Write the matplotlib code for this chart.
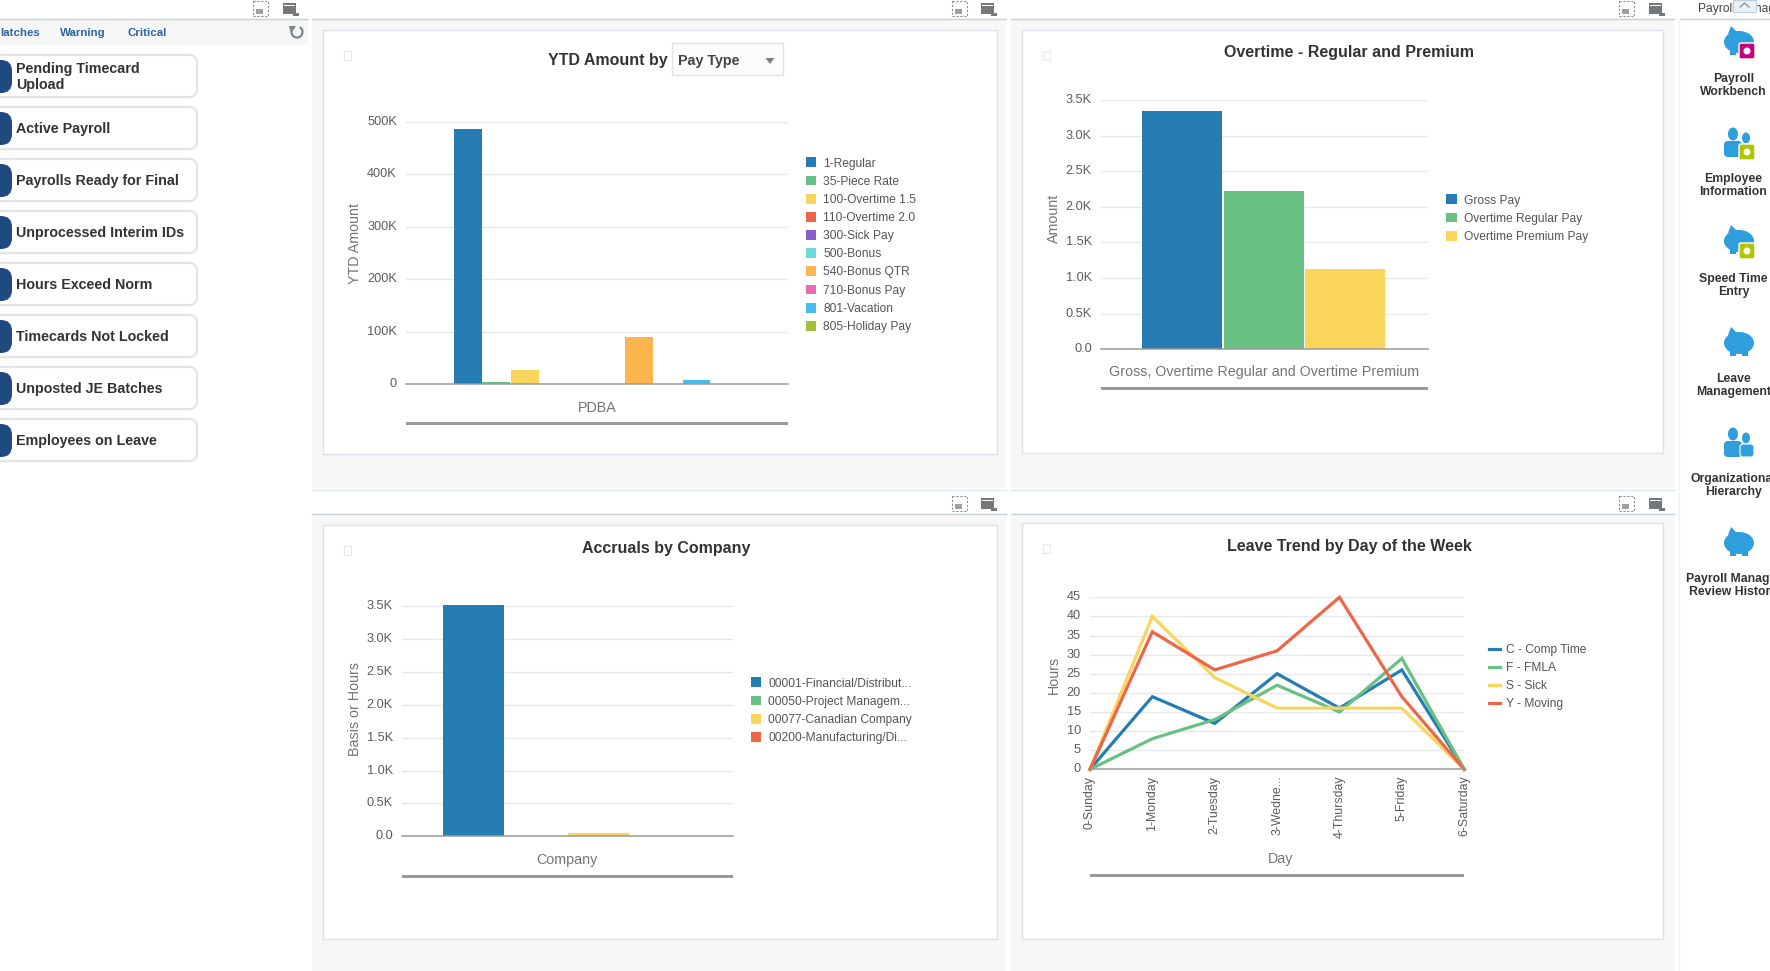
import matplotlib
matplotlib.use("Agg")
import matplotlib.pyplot as plt
from matplotlib.patches import Rectangle, FancyBboxPatch, Ellipse, Polygon, Circle, Arc
from matplotlib.ticker import FuncFormatter
from matplotlib.transforms import ScaledTranslation

plt.rcParams['font.family'] = ['Liberation Sans', 'DejaVu Sans']

# ---------- data ----------
pay_types = ['1-Regular', '35-Piece Rate', '100-Overtime 1.5', '110-Overtime 2.0', '300-Sick Pay',
             '500-Bonus', '540-Bonus QTR', '710-Bonus Pay', '801-Vacation', '805-Holiday Pay']
pay_values = [486500, 3500, 27500, 0, 0, 0, 90000, 0, 8300, 0]
pay_ticks = [0, 100000, 200000, 300000, 400000, 500000]

overtime_names = ['Gross Pay', 'Overtime Regular Pay', 'Overtime Premium Pay']
overtime_values = [3345, 2222, 1127]
overtime_ticks = [0, 500, 1000, 1500, 2000, 2500, 3000, 3500]

companies = ['00001-Financial/Distribut...', '00050-Project Managem...',
             '00077-Canadian Company', '00200-Manufacturing/Di...']
company_values = [3520, 0, 45, 0]

days = ['0-Sunday', '1-Monday', '2-Tuesday', '3-Wedne...', '4-Thursday', '5-Friday', '6-Saturday']
leave_names = ['C - Comp Time', 'F - FMLA', 'S - Sick', 'Y - Moving']
comp_time = [0, 19, 12, 25, 16, 26, 0]
fmla = [0, 8, 13, 22, 15, 29, 0]
sick = [0, 40, 24, 16, 16, 16, 0]
moving = [0, 36, 26, 31, 45, 19, 0]
leave_ticks = [0, 5, 10, 15, 20, 25, 30, 35, 40, 45]

side_items = ['Pending Timecard\nUpload', 'Active Payroll', 'Payrolls Ready for Final',
              'Unprocessed Interim IDs', 'Hours Exceed Norm', 'Timecards Not Locked',
              'Unposted JE Batches', 'Employees on Leave']
side_tabs = ['latches', 'Warning', 'Critical']
nav_items = ['Payroll\nWorkbench', 'Employee\nInformation', 'Speed Time\nEntry', 'Leave\nManagement',
             'Organizational\nHierarchy', 'Payroll Manager\nReview History']

palette = ['#267db3', '#68c182', '#fad55c', '#ed6647', '#8561c5',
           '#6ddbdb', '#ffb54d', '#e46fb5', '#47bdef', '#a2bf39']

# ---------- helpers ----------
W, H = 1770, 971
fig = plt.figure(figsize=(W / 100, H / 100), dpi=100, facecolor='white')
bg = fig.add_axes([0, 0, 1, 1], zorder=0)
bg.set_xlim(0, W)
bg.set_ylim(H, 0)
bg.axis('off')


def pt(px):
    return px * 0.72


def rect(x0, y0, x1, y1, **kw):
    kw.setdefault('linewidth', 0)
    bg.add_patch(Rectangle((x0, y0), x1 - x0, y1 - y0, **kw))


def px_axes(l, t, r, b):
    ax = fig.add_axes([l / W, 1 - b / H, (r - l) / W, (b - t) / H], zorder=2)
    ax.patch.set_alpha(0)
    for s in ['top', 'left', 'right']:
        ax.spines[s].set_visible(False)
    ax.spines['bottom'].set_color('#9a9a9a')
    ax.spines['bottom'].set_linewidth(1.1)
    ax.grid(axis='y', color='#e6e8ee', linewidth=1.0)
    ax.set_axisbelow(True)
    ax.tick_params(axis='y', length=0, pad=6.5, labelsize=pt(12.7), labelcolor='#5c5c5c')
    ax.tick_params(axis='x', length=0)
    return ax


def kfmt(decimals):
    def f(v, _):
        if v == 0:
            return '0' if decimals == 0 else '0.0'
        return f'{v / 1000:.{decimals}f}K'
    return FuncFormatter(f)


def lift_labels(ax):
    off = ScaledTranslation(0, 1.5 / 100, fig.dpi_scale_trans)
    for lbl in ax.get_yticklabels():
        lbl.set_transform(lbl.get_transform() + off)


def axis_titles(ax, xlabel, xpos, ylabel, ypos):
    ax.set_xlabel(xlabel, fontsize=pt(14.2), color='#757575', va='center', ha='center')
    ax.xaxis.set_label_coords(xpos[0], xpos[1] + 1, transform=bg.transData)
    ax.set_ylabel(ylabel, fontsize=pt(14.2), color='#757575', va='center', ha='center')
    ax.yaxis.set_label_coords(ypos[0], ypos[1], transform=bg.transData)


def legend(ax, x, y, line=False):
    fs = 12.05
    ax.legend(loc='upper left', bbox_to_anchor=(x, y), bbox_transform=bg.transData,
              frameon=False, fontsize=pt(fs), labelcolor='#555555', borderpad=0, borderaxespad=0,
              handlelength=10.5 / fs, handleheight=(3 if line else 10.5) / fs,
              handletextpad=7 / fs, labelspacing=(17.8 - 11.7) / fs)


def toolbar(x1, x2, y):
    rect(x1, y, x1 + 15, y + 15, facecolor='none', edgecolor='#8a8f94', linewidth=0.8, linestyle=(0, (2, 1.5)))
    rect(x1 + 3, y + 8, x1 + 10, y + 13, facecolor='#9aa0a5')
    rect(x2, y + 2, x2 + 13, y + 13, facecolor='#73787d')
    rect(x2 + 1, y + 4, x2 + 12, y + 5, facecolor='white')
    bg.add_patch(Polygon([[x2 + 10, y + 12], [x2 + 16, y + 12], [x2 + 16, y + 15], [x2 + 10, y + 15]],
                         closed=True, facecolor='#73787d', linewidth=0))


def card(l, t, r, b):
    rect(l, t, r, b, facecolor='white', edgecolor='#dde2e8', linewidth=1.0, zorder=1)
    rect(l + 21, t + 21, l + 28, t + 30, facecolor='none', edgecolor='#f0e4e4', linewidth=0.8, zorder=1)


# ---------- page furniture ----------
rect(312, 20, 1006, 488, facecolor='#f7f7f7')
rect(1011, 20, 1674, 488, facecolor='#f7f7f7')
rect(312, 514, 1006, 971, facecolor='#f7f7f7')
rect(1011, 514, 1674, 971, facecolor='#f7f7f7')
for x0, x1 in [(0, 308), (312, 1006), (1011, 1674), (1680, 1770)]:
    bg.plot([x0, x1], [19.5, 19.5], color='#c8d0d8', linewidth=1)
for x0, x1 in [(312, 1006), (1011, 1674)]:
    bg.plot([x0, x1], [490.5, 490.5], color='#dbe6ef', linewidth=1)
    bg.plot([x0, x1], [514.5, 514.5], color='#c8d0d8', linewidth=1)
bg.plot([1679, 1679], [20, 971], color='#eef0f2', linewidth=1)

card(323, 30.5, 996.5, 454)
card(1022, 30.5, 1663, 453.5)
card(323, 525.5, 996.5, 939.5)
card(1022, 523.5, 1663, 939.5)

toolbar(253, 283, 1)
toolbar(952, 981, 1)
toolbar(1619, 1649, 1)
toolbar(952, 981, 496)
toolbar(1619, 1649, 496)

# left sidebar
rect(0, 20, 308, 45, facecolor='#f5f7f7')
for label, x in zip(side_tabs, [0, 60, 128]):
    bg.text(x, 32.5, label, fontsize=pt(11.5), color='#2e62a3', fontweight='bold', ha='left', va='center')
bg.add_patch(Arc((297, 32), 11, 11, theta1=-60, theta2=240, edgecolor='#80858a', linewidth=1.6))
bg.add_patch(Polygon([[289, 26], [296, 26], [291, 33]], facecolor='#80858a', linewidth=0))
for i, label in enumerate(side_items):
    top = 55 + 52 * i
    bg.add_patch(FancyBboxPatch((-20, top), 217, 42, boxstyle='round,pad=0,rounding_size=8',
                                facecolor='white', edgecolor='#e3e4e8', linewidth=1.6))
    bg.add_patch(FancyBboxPatch((-12, top + 5), 24, 33, boxstyle='round,pad=0,rounding_size=11',
                                facecolor='#1f4a80', linewidth=0))
    bg.text(16.5, top + 22, label, fontsize=pt(14.3), color='#333333', fontweight='bold', ha='left',
            va='center', linespacing=1.1)

# right navigation
bg.text(1698, 9, 'Payroll Manager', fontsize=pt(12), color='#444444', ha='left', va='center', clip_on=True)
rect(1733, 0, 1756, 12, facecolor='#eaf1f7', edgecolor='#bcd0e0', linewidth=0.8, zorder=3)
bg.plot([1740, 1744.5, 1749], [7, 3, 7], color='#8a99a8', linewidth=1, zorder=4)
for i, label in enumerate(nav_items):
    y = 85.5 + 100 * i if i < 5 else 585.5
    bg.text(1733.5, y, label, fontsize=pt(12.3), color='#333333', fontweight='bold', ha='center', va='center',
            linespacing=1.15, clip_on=True)


def piggy(cx, cy):
    c = '#2e9fdc'
    bg.add_patch(Ellipse((cx, cy), 30, 22, facecolor=c, linewidth=0))
    bg.add_patch(Polygon([[cx - 11, cy - 8], [cx - 8, cy - 16], [cx - 2, cy - 10]], facecolor=c, linewidth=0))
    rect(cx - 9, cy + 6, cx - 3, cy + 13, facecolor=c)
    rect(cx + 3, cy + 6, cx + 9, cy + 13, facecolor=c)


def people(cx, cy):
    c = '#2e9fdc'
    bg.add_patch(Ellipse((cx - 6, cy - 10), 10, 13, facecolor=c, linewidth=0))
    bg.add_patch(FancyBboxPatch((cx - 15, cy - 3), 18, 16, boxstyle='round,pad=0,rounding_size=4',
                                facecolor=c, linewidth=0))
    bg.add_patch(Ellipse((cx + 7, cy - 6), 8, 11, facecolor=c, linewidth=0))
    bg.add_patch(FancyBboxPatch((cx + 1, cy), 14, 13, boxstyle='round,pad=0,rounding_size=3',
                                facecolor=c, edgecolor='white', linewidth=0.8))


def badge(cx, cy, color):
    bg.add_patch(FancyBboxPatch((cx - 8, cy - 8), 16, 16, boxstyle='round,pad=0,rounding_size=2',
                                facecolor=color, edgecolor='white', linewidth=1))
    bg.add_patch(Circle((cx, cy), 3.5, facecolor='white', linewidth=0))


piggy(1739, 42)
badge(1747, 51, '#c4007f')
people(1739, 144)
badge(1747, 152, '#b2c400')
piggy(1739, 241)
badge(1747, 251, '#b2c400')
piggy(1739, 343)
people(1739, 444)
piggy(1739, 543)

# ---------- chart 1 ----------
ax1 = px_axes(406, 122, 788, 384.3)
for i, (name, val) in enumerate(zip(pay_types, pay_values)):
    ax1.bar(i, val, width=0.97, color=palette[i], label=name)
ax1.set_xlim(-2.16, 11.2)
ax1.set_ylim(0, 500000)
ax1.set_yticks(pay_ticks)
ax1.yaxis.set_major_formatter(FuncFormatter(lambda v, _: '0' if v == 0 else f'{v / 1000:.0f}K'))
ax1.set_xticks([])
axis_titles(ax1, 'PDBA', (597.5, 407), 'YTD Amount', (355, 243))
legend(ax1, 805.7, 157.5)
rect(406, 422.5, 788, 425.5, facecolor='#999999')
bg.text(667.5, 60, 'YTD Amount by', fontsize=pt(16), fontweight='bold', color='#333333', ha='right', va='center')
rect(672, 43, 783.3, 75, facecolor='#fcfcfc', edgecolor='#dfe3e8', linewidth=1, zorder=1.5)
bg.text(678, 60.5, 'Pay Type', fontsize=pt(14.2), fontweight='bold', color='#444444', ha='left', va='center', zorder=2)
bg.add_patch(Polygon([[765.5, 58], [774.5, 58], [770, 64]], facecolor='#7b7f84', linewidth=0, zorder=2))

# ---------- chart 2 ----------
ax2 = px_axes(1101, 100, 1428, 349.3)
for i, (name, val) in enumerate(zip(overtime_names, overtime_values)):
    ax2.bar(i, val, width=0.98, color=palette[i], label=name)
ax2.set_xlim(-0.995, 3.015)
ax2.set_ylim(0, 3500)
ax2.set_yticks(overtime_ticks)
ax2.yaxis.set_major_formatter(kfmt(1))
ax2.set_xticks([])
axis_titles(ax2, 'Gross, Overtime Regular and Overtime Premium', (1264.5, 371), 'Amount', (1054, 218))
legend(ax2, 1446, 194.5)
rect(1101, 386.8, 1428, 389.8, facecolor='#999999')
bg.text(1349, 53, 'Overtime - Regular and Premium', fontsize=pt(16), fontweight='bold', color='#333333',
        ha='center', va='center')

# ---------- chart 3 ----------
ax3 = px_axes(401.8, 606.3, 733, 836.3)
for i, (name, val) in enumerate(zip(companies, company_values)):
    ax3.bar(i, val, width=0.97, color=palette[i], label=name)
ax3.set_xlim(-1.15, 4.15)
ax3.set_ylim(0, 3500)
ax3.set_yticks(overtime_ticks)
ax3.yaxis.set_major_formatter(kfmt(1))
ax3.set_xticks([])
for b in ax3.patches:
    b.set_clip_on(False)
axis_titles(ax3, 'Company', (567.2, 859), 'Basis or Hours', (355, 709))
legend(ax3, 750.7, 677.5)
rect(401.8, 875, 733, 878, facecolor='#999999')
bg.text(665.8, 548.5, 'Accruals by Company', fontsize=pt(16), fontweight='bold', color='#333333',
        ha='center', va='center')

# ---------- chart 4 ----------
ax4 = px_axes(1090, 597.3, 1464.2, 769.3)
for i, (name, vals) in enumerate(zip(leave_names, [comp_time, fmla, sick, moving])):
    ax4.plot(range(len(days)), vals, color=palette[i], linewidth=pt(3.2), label=name, clip_on=False,
             solid_joinstyle='miter')
ax4.set_xlim(0, 6)
ax4.set_ylim(0, 45)
ax4.set_yticks(leave_ticks)
ax4.set_xticks(range(len(days)))
ax4.set_xticklabels(days, rotation=90, fontsize=pt(12.4), color='#5c5c5c')
ax4.tick_params(axis='x', pad=4.5)
axis_titles(ax4, 'Day', (1280.5, 858), 'Hours', (1054, 675))
legend(ax4, 1489, 643.5, line=True)
rect(1090, 874, 1464.2, 877, facecolor='#999999')
bg.text(1349, 547, 'Leave Trend by Day of the Week', fontsize=pt(16), fontweight='bold', color='#333333',
        ha='center', va='center')

for a in (ax1, ax2, ax3, ax4):
    lift_labels(a)

fig.savefig('out.png', dpi=100)
